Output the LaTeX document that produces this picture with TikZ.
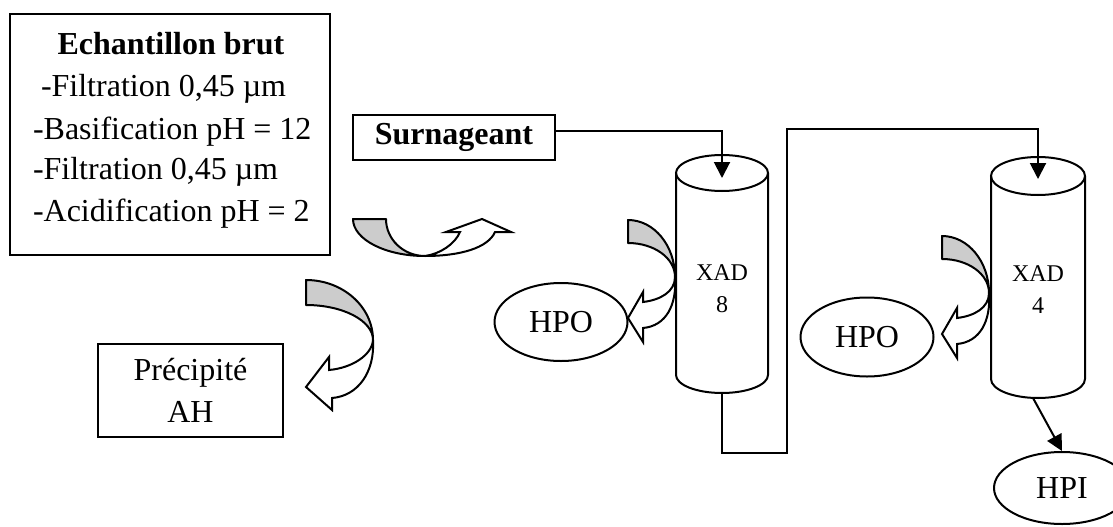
\documentclass[tikz,border=0pt]{standalone}
\usepackage{fontspec}
\setmainfont{Liberation Serif}
\usetikzlibrary{shapes.geometric,arrows.meta}
\tikzset{
  txt/.style={font=\fontsize{32}{42}\selectfont, inner sep=0pt},
  txtb/.style={font=\fontsize{32}{42}\selectfont\bfseries, inner sep=0pt},
  smalltxt/.style={font=\fontsize{24}{32}\selectfont, inner sep=0pt, align=center},
  boxnode/.style={draw, inner sep=0pt},
  oval/.style={draw, ellipse, inner sep=0pt, font=\fontsize{32}{42}\selectfont},
  conn/.style={-{Triangle[width=16pt,length=16pt]}},
  grayband/.style={draw, fill=black!20, line join=round},
  whiteband/.style={draw, fill=white, line join=miter},
}
\newcommand{\drawcyl}[6]{% name, cx, top y, bottom y, rx, ry
  \node[inner sep=0pt, minimum width={2*#5}, minimum height={#4-#3}] (#1) at (#2,{(#3+#4)/2}) {};
  \draw ({#2-#5},#3) -- ({#2-#5},#4)
    .. controls ({#2-#5},{#4+0.552*#6}) and ({#2-0.552*#5},{#4+#6}) .. (#2,{#4+#6})
    .. controls ({#2+0.552*#5},{#4+#6}) and ({#2+#5},{#4+0.552*#6}) .. ({#2+#5},#4)
    -- ({#2+#5},#3);
  \draw (#2,#3) ellipse [x radius=#5, y radius=#6];
}
\newcommand{\sidearrow}{%
  \draw[grayband] (0,0) -- (0,23) .. controls (26,23) and (47,38) .. (47,57)
    .. controls (47,25.5) and (26,0) .. (0,0) -- cycle;
  \draw[whiteband] (47,57) .. controls (47,72) and (32,80) .. (15,82) -- (15,72)
    -- (0,98) -- (15,122) -- (15,108) .. controls (38,106) and (49,85) .. (47,57) -- cycle;
}
\begin{document}
\begin{tikzpicture}[x=1pt, y=-1pt, line width=2pt]
\useasboundingbox (0,0) rectangle (1113,527);

% main box
\node[boxnode, minimum width=320pt, minimum height=241pt] (raw) at (170,134.5) {};
\node[txtb, anchor=base] (t0) at (171,55) {Echantillon brut};
\node[txt, anchor=base west] (t1) at (40,96) {-Filtration 0,45 µm};
\node[txt, anchor=base west] (t2) at (32,139) {-Basification pH = 12};
\node[txt, anchor=base west] (t3) at (32,179) {-Filtration 0,45 µm};
\node[txt, anchor=base west] (t4) at (32,221) {-Acidification pH = 2};

% surnageant
\node[boxnode, txtb, minimum width=202pt, minimum height=45pt] (surn) at (454,137.5) {Surnageant};

% precipite
\node[boxnode, txt, align=center, minimum width=185pt, minimum height=93pt] (prec) at (190.5,390.5) {Précipité\\AH};

% cylinders
\drawcyl{cyl8}{722}{173}{375}{46}{18}
\drawcyl{cyl4}{1038}{176}{379}{47}{19}
\node[smalltxt] (x8) at (722,289) {XAD\\8};
\node[smalltxt] (x4) at (1038,290) {XAD\\4};

% ovals
\node[oval, minimum width=133pt, minimum height=78pt] (hpo1) at (561,322) {HPO};
\node[oval, minimum width=133pt, minimum height=79pt] (hpo2) at (867,337) {HPO};
\node[oval, minimum width=136pt, minimum height=72pt] (hpi) at (1062,488) {HPI};

% connectors
\draw[conn] ([yshift=7pt]surn.east) -| ([yshift=-6pt]cyl8.north);
\draw[conn] ([yshift=-18pt]cyl8.south) |- (787,453) |- (1038,129) -- ([yshift=-4pt]cyl4.north);
\draw[conn] ([xshift=-5pt,yshift=-18pt]cyl4.south) -- (hpi.north);

% curved block arrow A (horizontal)
\draw[grayband] (353,219) -- (386,219) .. controls (386,239.4) and (403.5,256) .. (425,256)
  .. controls (385.3,256) and (353,239.4) .. (353,219) -- cycle;
\draw[whiteband] (425,256) .. controls (440,254) and (455,244) .. (460,232) -- (446,232)
  -- (482,219) -- (511,232) -- (495,232) .. controls (488,248) and (460,256) .. (425,256) -- cycle;

% curved block arrow B (down to precipite)
\draw[grayband] (306,280) -- (306,305) .. controls (343,305) and (373,320.7) .. (373,340)
  .. controls (373,306.9) and (343,280) .. (306,280) -- cycle;
\draw[whiteband] (373,340) .. controls (372,355) and (352,368) .. (329,370) -- (329,357)
  -- (306,387) -- (332,410) -- (332,398) .. controls (358,396) and (375,372) .. (373,340) -- cycle;

% side arrows C and D
\begin{scope}[shift={(628,220)}]
  \sidearrow
\end{scope}
\begin{scope}[shift={(942,236)}]
  \sidearrow
\end{scope}
\end{tikzpicture}
\end{document}
